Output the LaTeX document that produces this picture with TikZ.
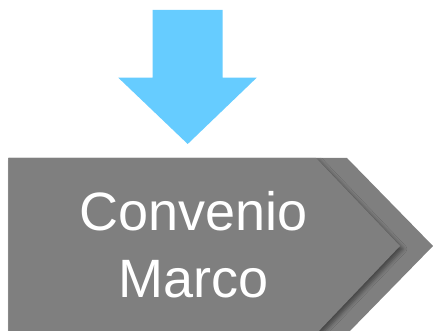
\documentclass[tikz,border=0pt]{standalone}
\usepackage{fontspec}
\setmainfont{Liberation Sans}
\usetikzlibrary{shadows.blur}
\definecolor{arrowblue}{HTML}{66CCFF}
\definecolor{boxgray}{HTML}{7F7F7F}
\tikzset{
  chevron/.style={fill=boxgray, draw=none},
  labeltext/.style={text=white, font=\fontsize{54}{66}\selectfont, inner sep=0pt, anchor=base},
}
\begin{document}
\begin{tikzpicture}[x=1pt,y=-1pt]
\useasboundingbox (0,0) rectangle (433,331);
\clip (0,0) rectangle (433,331);
% down arrow
\fill[arrowblue] (152.7,10) -- (222.7,10) -- (222.7,77.7) -- (256.7,77.7)
  -- (187.7,144) -- (118.3,77.7) -- (152.7,77.7) -- cycle;
% back chevron
\path[chevron] (8.3,158) -- (347,158) -- (433,246) -- (347,334) -- (8.3,334) -- cycle;
% front chevron with shadow
\path[chevron, blur shadow={shadow xshift=3pt, shadow yshift=-3pt, shadow blur radius=4pt, shadow opacity=45}]
  (8.3,158) -- (316,158) -- (400,246) -- (316,334) -- (8.3,334) -- cycle;
\node[labeltext] (t1) at (193.5,230) {Convenio};
\node[labeltext] (t2) at (194,297) {Marco};
\end{tikzpicture}
\end{document}
